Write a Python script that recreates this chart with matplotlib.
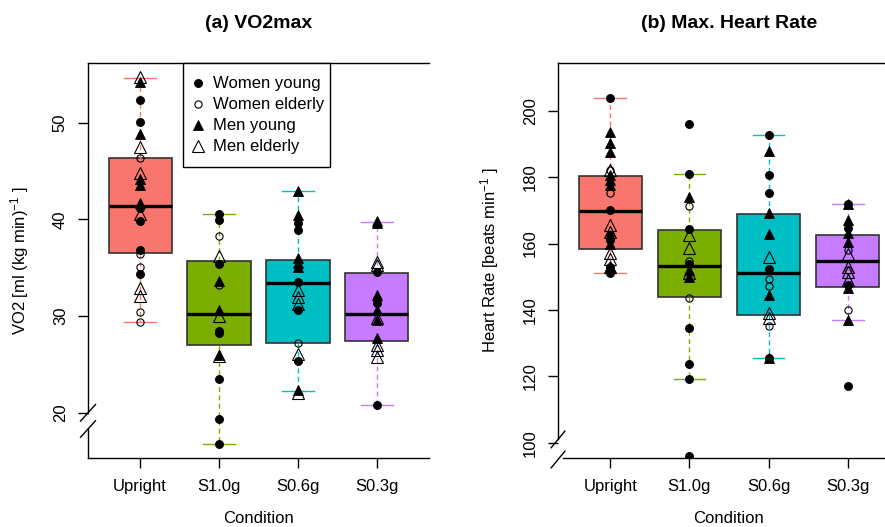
import matplotlib
matplotlib.use("Agg")
import matplotlib.pyplot as plt
from matplotlib.lines import Line2D
from matplotlib.patches import Rectangle

plt.rcParams['font.family'] = ['Liberation Sans', 'DejaVu Sans']
plt.rcParams['mathtext.fontset'] = 'custom'
plt.rcParams['mathtext.rm'] = 'Liberation Sans'
plt.rcParams['mathtext.it'] = 'Liberation Sans:italic'
plt.rcParams['mathtext.default'] = 'regular'

conditions = ['Upright', 'S1.0g', 'S0.6g', 'S0.3g']
box_colors = ['#F8766D', '#7CAE00', '#00BFC4', '#C77CFF']
group_labels = ['Women young', 'Women elderly', 'Men young', 'Men elderly']

# ---- (a) VO2max: box statistics ----
vo2_whislo = [29.4, 16.8, 22.2, 20.8]
vo2_q1 = [36.5, 27.0, 27.2, 27.4]
vo2_med = [41.4, 30.2, 33.4, 30.2]
vo2_q3 = [46.4, 35.7, 35.8, 34.5]
vo2_whishi = [54.6, 40.6, 42.9, 39.7]

# individual points per condition
vo2_women_young = [[52.4, 50.1, 41.2, 39.8, 36.8, 34.4],
                   [40.6, 39.9, 35.4, 28.4, 28.2, 23.5, 19.3, 16.8],
                   [39.6, 38.9, 33.5, 30.6, 25.3],
                   [34.6, 31.8, 31.3, 20.8]]
vo2_women_elderly = [[46.4, 36.4, 35.1, 30.4, 29.4],
                     [38.3, 33.2],
                     [27.2],
                     []]
vo2_men_young = [[54.2, 48.8, 44.2, 43.6, 41.7],
                 [33.6, 30.6, 26.0],
                 [42.9, 40.5, 36.0, 35.5, 35.1, 22.3],
                 [39.8, 39.6, 32.2, 30.6, 29.6, 27.7]]
vo2_men_elderly = [[54.8, 47.5, 44.8, 40.6, 32.9, 32.1],
                   [36.2, 30.0, 25.9],
                   [32.7, 32.0, 31.2, 26.1, 22.0],
                   [35.6, 35.3, 29.8, 27.0, 26.5, 25.8]]

# ---- (b) Max. Heart Rate ----
hr_whislo = [151.0, 119.1, 125.5, 137.0]
hr_q1 = [158.5, 143.8, 138.5, 146.8]
hr_med = [169.9, 153.3, 151.0, 154.9]
hr_q3 = [180.3, 164.2, 168.9, 162.6]
hr_whishi = [203.9, 180.9, 192.7, 171.9]

hr_women_young = [[204.0, 170.2, 162.6, 161.1, 153.0, 151.2],
                  [196.0, 180.9, 164.3, 153.8, 134.6, 123.7, 119.1, 96.0],
                  [192.7, 180.6, 175.3, 152.2, 125.6],
                  [171.9, 164.6, 147.5, 117.2]]
hr_women_elderly = [[182.1, 175.1],
                    [171.4, 154.7, 143.7],
                    [149.2, 147.2, 135.2],
                    [158.0, 152.0, 140.0]]
hr_men_young = [[193.7, 190.2, 187.7, 180.6, 179.1, 177.6, 159.9, 153.0],
                [174.1, 152.0, 150.0],
                [188.0, 169.3, 162.8, 144.5, 125.4],
                [171.9, 167.1, 163.1, 160.5, 146.5, 137.0]]
hr_men_elderly = [[182.3, 165.6, 163.5, 157.1, 155.5, 152.8],
                  [162.6, 158.6, 151.0],
                  [156.0, 139.0, 137.5],
                  [157.0, 153.0, 151.5, 149.0]]

marker_styles = [
    dict(marker='o', markersize=5.8, markerfacecolor='black', markeredgecolor='black', markeredgewidth=0.6),
    dict(marker='o', markersize=5.2, markerfacecolor='none', markeredgecolor='black', markeredgewidth=0.8),
    dict(marker='^', markersize=7.2, markerfacecolor='black', markeredgecolor='black', markeredgewidth=0.6),
    dict(marker='^', markersize=8.0, markerfacecolor='none', markeredgecolor='black', markeredgewidth=0.8),
]

fig = plt.figure(figsize=(8.85, 5.27), dpi=100)
W, H = 885.0, 527.0
axL = fig.add_axes([88 / W, 69 / H, 341 / W, 395 / H])
axR = fig.add_axes([558 / W, 69 / H, 342 / W, 395 / H])


def draw_break(ax, y_hi, y_lo, bottom_start, dx, dy):
    kw = dict(transform=ax.transAxes, color='black', lw=1.0, clip_on=False, zorder=10)
    ax.add_line(Line2D([0, 0], [1, y_hi], **kw))
    ax.add_line(Line2D([0, 0], [max(y_lo, 0), 0], **kw))
    ax.add_line(Line2D([bottom_start, 1], [0, 0], **kw))
    ax.add_line(Line2D([0, 1], [1, 1], **kw))
    for yc in (y_hi, y_lo):
        ax.add_line(Line2D([-dx, dx], [yc - dy, yc + dy], **kw))


def panel(ax, lo, q1, med, q3, hi, groups, ylim, yticks, ylabel, title, brk):
    stats = []
    for i in range(len(conditions)):
        stats.append(dict(med=med[i], q1=q1[i], q3=q3[i], whislo=lo[i], whishi=hi[i], fliers=[]))
    pos = list(range(1, len(conditions) + 1))
    bp = ax.bxp(stats, positions=pos, widths=0.8, capwidths=0.4, patch_artist=True,
                showfliers=False,
                boxprops=dict(edgecolor='#333333', linewidth=1.2),
                medianprops=dict(color='black', linewidth=2.4),
                whiskerprops=dict(linestyle=(0, (3.5, 2.5)), linewidth=1.0),
                capprops=dict(linewidth=1.0))
    for i, c in enumerate(box_colors):
        bp['boxes'][i].set_facecolor(c)
        for k in (2 * i, 2 * i + 1):
            bp['whiskers'][k].set_color(c)
            bp['caps'][k].set_color(c)
    for g, vals in enumerate(groups):
        for i, v in enumerate(vals):
            if v:
                ax.plot([pos[i]] * len(v), v, linestyle='none', zorder=5, **marker_styles[g])
    ax.set_xlim(0.34, 4.66)
    ax.set_ylim(*ylim)
    ax.set_xticks(pos)
    ax.set_xticklabels(conditions, fontsize=12)
    ax.set_yticks(yticks)
    ax.set_yticklabels([str(t) for t in yticks], fontsize=12, rotation=90, va='center')
    ax.tick_params(axis='x', length=7, width=1, pad=8)
    ax.tick_params(axis='y', length=7, width=1, pad=7.5)
    for s in ax.spines.values():
        s.set_visible(False)
    draw_break(ax, *brk)
    ax.set_ylabel(ylabel, fontsize=12)
    ax.yaxis.set_label_coords(-0.166, 0.5)
    ax.text(0.5, -0.152, 'Condition', transform=ax.transAxes, ha='center', va='center', fontsize=12)
    ax.text(0.5, 1.1, title, transform=ax.transAxes, ha='center', va='center',
            fontsize=14, fontweight='bold')


panel(axL, vo2_whislo, vo2_q1, vo2_med, vo2_q3, vo2_whishi,
      [vo2_women_young, vo2_women_elderly, vo2_men_young, vo2_men_elderly],
      (15.3, 56.2), [20, 30, 40, 50], r'VO2 [ml (kg min)$^{-1}$ ]', '(a) VO2max',
      (0.1144, 0.0734, 0.0, 0.022, 0.021))
panel(axR, hr_whislo, hr_q1, hr_med, hr_q3, hr_whishi,
      [hr_women_young, hr_women_elderly, hr_men_young, hr_men_elderly],
      (95.4, 214.4), [100, 120, 140, 160, 180, 200], r'Heart Rate [beats min$^{-1}$ ]',
      '(b) Max. Heart Rate',
      (0.047, -0.004, 0.015, 0.02, 0.021))

# legend: frame drawn separately, entries placed inside it
axL.add_patch(Rectangle((0.2786, 0.7367), 0.4311, 0.2633, transform=axL.transAxes,
                        facecolor='white', edgecolor='black', linewidth=1.0,
                        zorder=19, clip_on=False))
handles = [Line2D([], [], linestyle='none', **ms) for ms in marker_styles]
leg = axL.legend(handles, group_labels, loc='upper left', bbox_to_anchor=(0.298, 0.966),
                 borderaxespad=0, frameon=False, fontsize=12,
                 handlelength=1.0, handletextpad=0.4, borderpad=0.0, labelspacing=0.36)
leg.set_zorder(20)

fig.savefig('out.png', dpi=100)
